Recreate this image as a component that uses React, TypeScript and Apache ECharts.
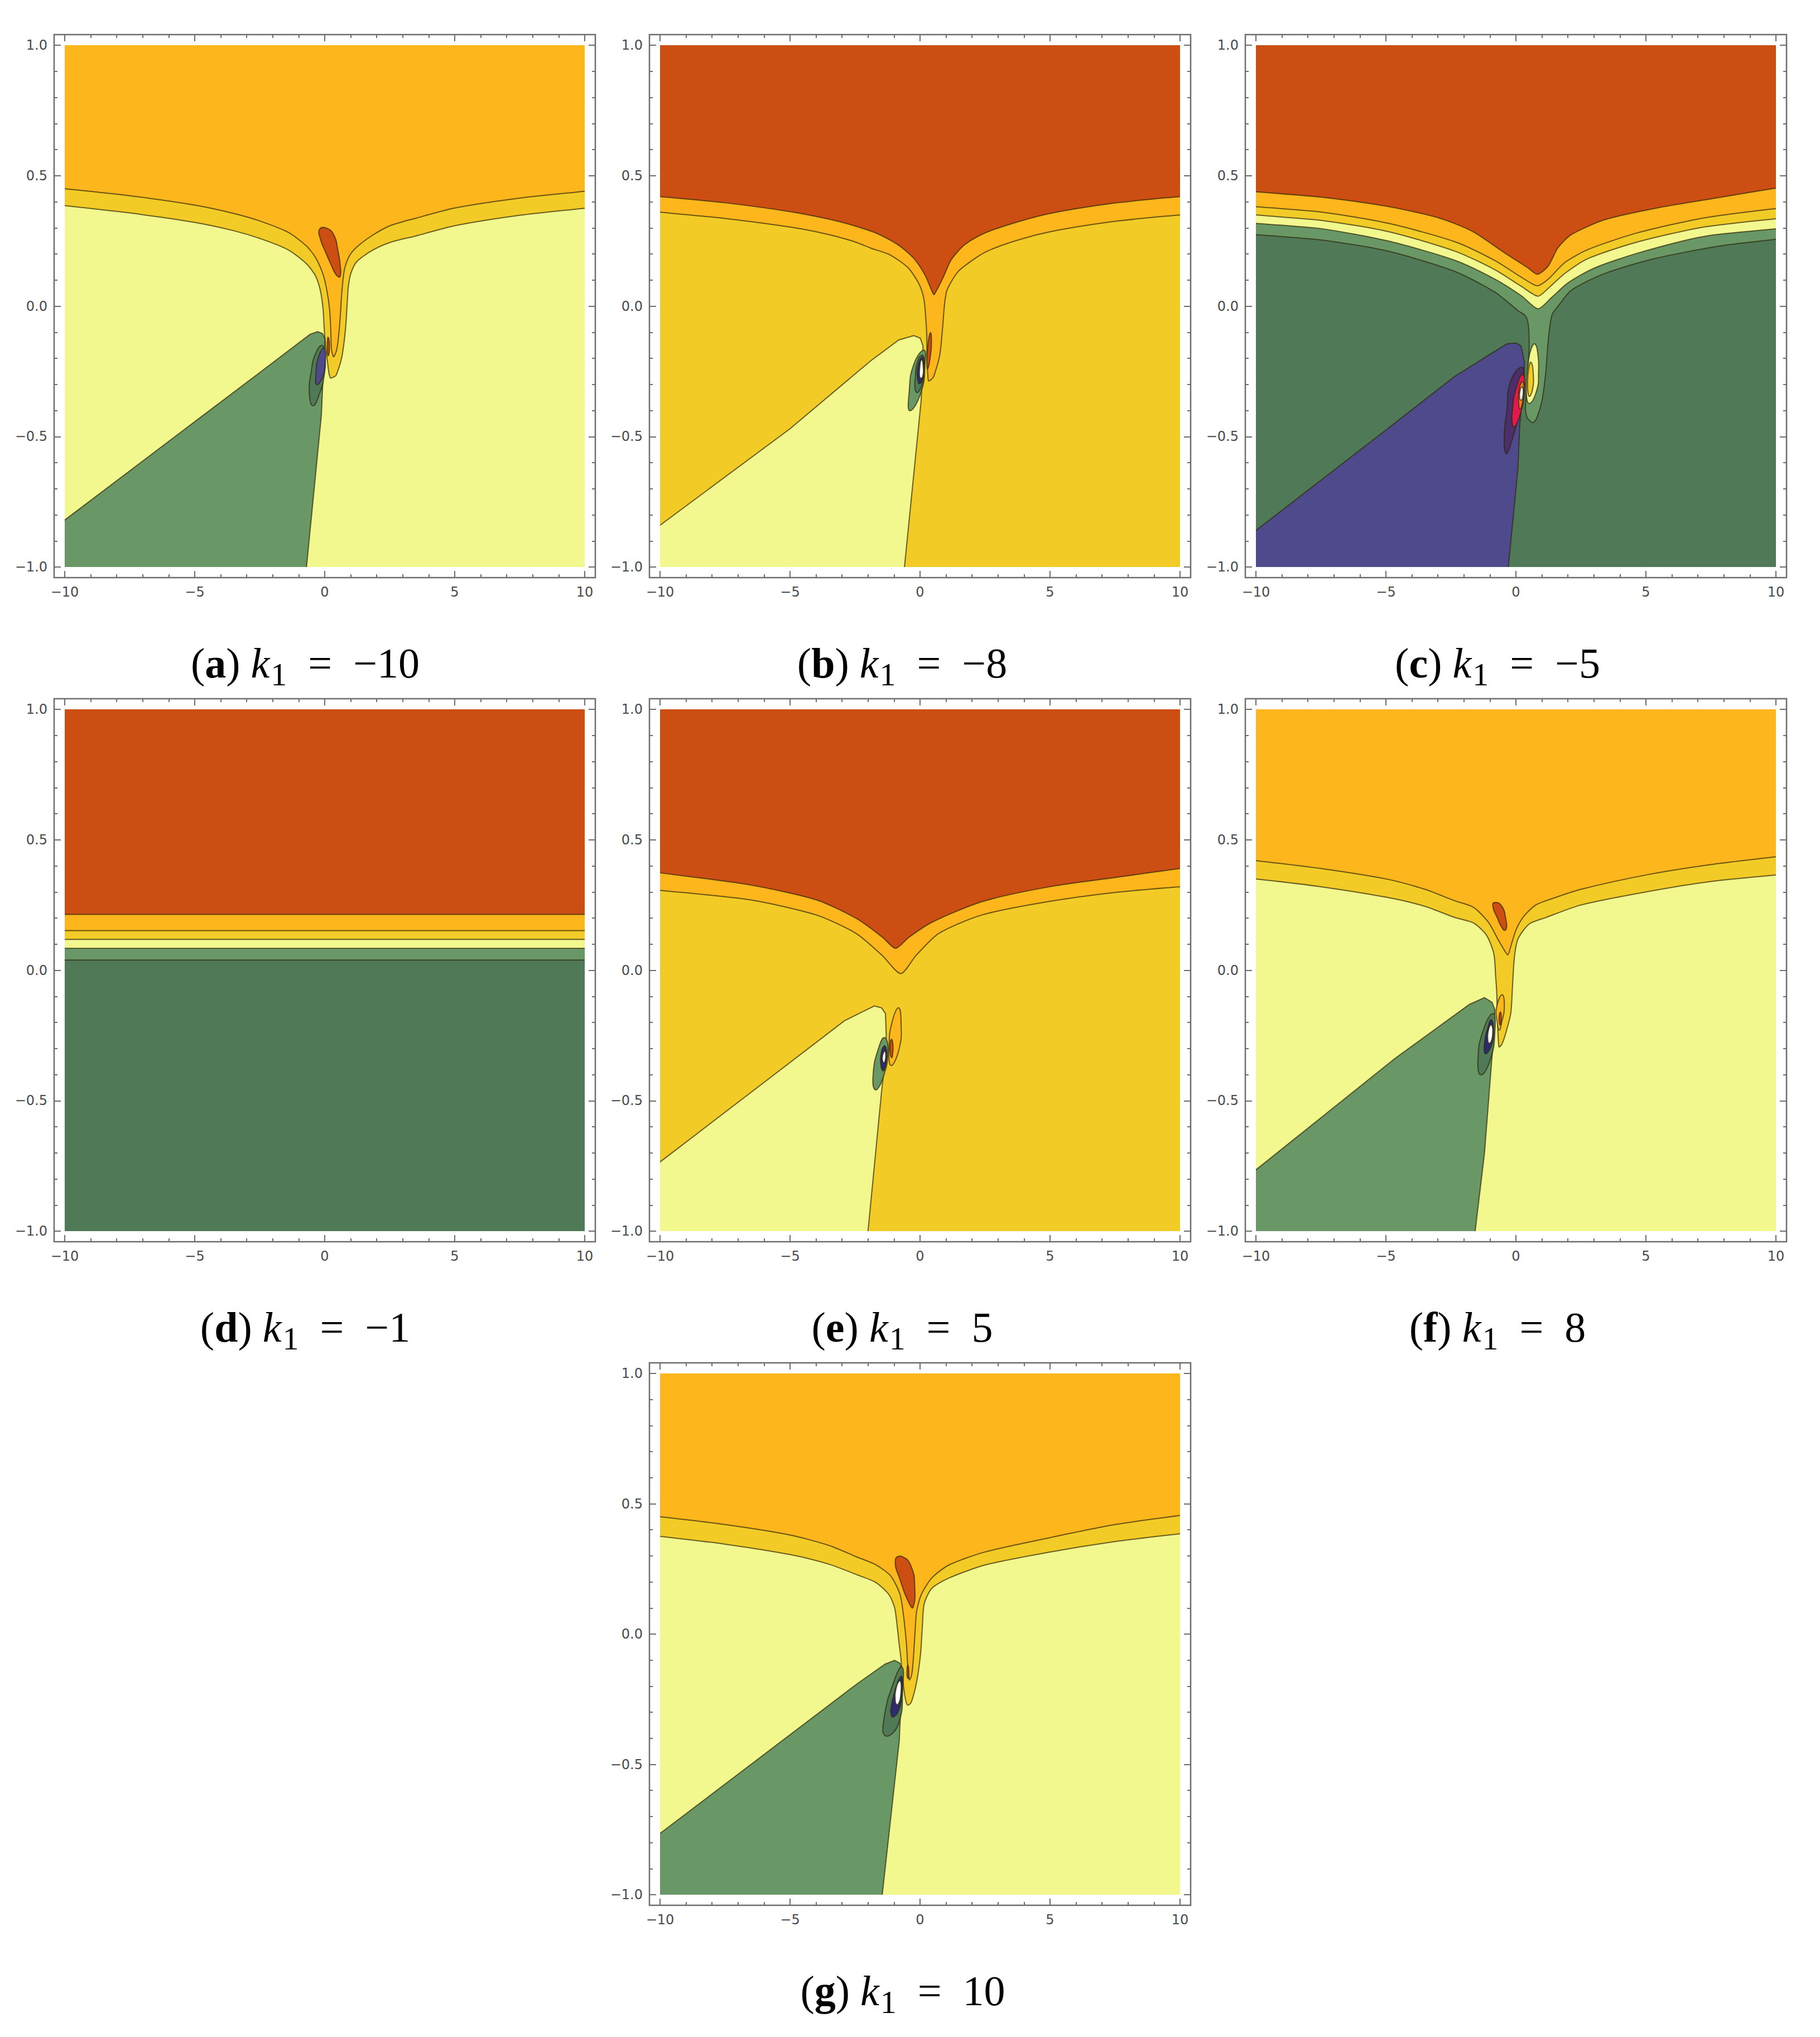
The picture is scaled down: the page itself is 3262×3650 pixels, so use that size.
import React, { useEffect, useRef } from "react";
import * as echarts from "echarts";

// ---------- colours ----------
const RED_ORANGE = "#CC4E12";
const ORANGE = "#FDB61B";
const GOLD = "#F2CB26";
const PALE = "#F2F78E";
const GREEN = "#699866";
const DARK_GREEN = "#507958";
const PURPLE = "#4F4A8C";
const PLUM = "#4B2E6A";
const CRIMSON = "#E01B4B";
const EMBER = "#F07A22";
const NAVY = "#2E2C6E";
const WHITE = "#FFFFFF";
const EDGE = "rgba(45,38,10,0.7)";
const FRAME = "#6d6d6d";

// ---------- axis ticks ----------
const xRange = [-10, 10];
const xStep = 5;
const yRange = [-1, 1];
const yStep = 0.5;

// ---------- captions ----------
const panelTags = ["a", "b", "c", "d", "e", "f", "g"];
const k1Values = ["−10", "−8", "−5", "−1", "5", "8", "10"];

// ---------- (a) k1 = -10 ----------
const aOrangeEdge = [[-10.6,0.455],[-10,0.45],[-7.5,0.423],[-5,0.387],[-3.5,0.355],[-2.49,0.326],[-1.41,0.283],[-0.70,0.230],[-0.34,0.184],[-0.06,0.120],[0.09,0.056],[0.19,-0.016],[0.23,-0.087],[0.26,-0.165],[0.34,-0.194],[0.44,-0.175],[0.51,-0.137],[0.59,-0.051],[0.66,0.056],[0.76,0.141],[0.94,0.191],[1.23,0.226],[1.80,0.269],[2.51,0.308],[3.51,0.337],[5,0.376],[7.5,0.414],[10,0.44],[10.6,0.445]];
const aGoldEdge = [[-10.6,0.39],[-10,0.385],[-7.5,0.357],[-5,0.321],[-3.5,0.289],[-2.49,0.259],[-1.41,0.216],[-0.70,0.162],[-0.34,0.113],[-0.16,0.056],[-0.06,-0.016],[-0.02,-0.087],[0.02,-0.14],[0.09,-0.2],[0.16,-0.255],[0.23,-0.276],[0.34,-0.272],[0.44,-0.265],[0.66,-0.194],[0.80,-0.087],[0.87,0.020],[0.91,0.077],[1.01,0.127],[1.23,0.170],[1.80,0.212],[2.51,0.244],[3.51,0.269],[5,0.308],[7.5,0.348],[10,0.375],[10.6,0.38]];
const aRedSpot = [[-0.20,0.294],[0.09,0.298],[0.37,0.269],[0.51,0.212],[0.59,0.162],[0.59,0.113],[0.44,0.120],[0.23,0.162],[0.01,0.212],[-0.16,0.255]];
const aRedDot = [[0.12,-0.12],[0.17,-0.13],[0.18,-0.17],[0.13,-0.19],[0.10,-0.16]];
const aGreenWedge = [[-10.6,-0.865],[-10,-0.82],[-5,-0.443],[-2.49,-0.254],[-1.2,-0.156],[-0.56,-0.108],[-0.27,-0.098],[-0.09,-0.105],[0.01,-0.125],[-0.02,-0.2],[-0.06,-0.265],[-0.13,-0.42],[-0.76,-1.06],[-10.6,-1.06]];
const aDarkOval = [[-0.09,-0.151],[0.01,-0.194],[-0.02,-0.265],[-0.20,-0.336],[-0.45,-0.382],[-0.59,-0.336],[-0.52,-0.251],[-0.34,-0.179]];
const aPurpleOval = [[-0.02,-0.162],[0.01,-0.229],[-0.12,-0.28],[-0.31,-0.301],[-0.34,-0.265],[-0.24,-0.194]];

// ---------- (b) k1 = -8 ----------
const bRedEdge = [[-10.6,0.425],[-10,0.42],[-7.5,0.396],[-5,0.362],[-3.5,0.333],[-2.5,0.307],[-1.60,0.276],[-0.82,0.233],[-0.24,0.183],[0.19,0.119],[0.47,0.055],[0.54,0.044],[0.90,0.112],[1.19,0.176],[1.69,0.233],[2.40,0.276],[3.5,0.315],[5,0.355],[7.5,0.395],[10,0.42],[10.6,0.425]];
const bOrangeEdge = [[-10.6,0.365],[-10,0.36],[-7.5,0.336],[-5,0.303],[-3.5,0.274],[-2.5,0.246],[-1.89,0.222],[-1.17,0.197],[-0.46,0.147],[-0.03,0.083],[0.15,0.026],[0.22,-0.045],[0.26,-0.116],[0.27,-0.2],[0.30,-0.265],[0.33,-0.287],[0.45,-0.28],[0.54,-0.266],[0.76,-0.187],[0.87,-0.080],[0.94,0.005],[1.04,0.062],[1.47,0.133],[2.12,0.183],[2.62,0.212],[3.5,0.245],[5,0.285],[7.5,0.325],[10,0.35],[10.6,0.355]];
const bRedSpot = [[0.40,-0.102],[0.44,-0.14],[0.40,-0.19],[0.30,-0.24],[0.26,-0.22],[0.30,-0.15]];
const bPaleWedge = [[-10.6,-0.88],[-10,-0.84],[-5,-0.47],[-1.89,-0.209],[-0.82,-0.130],[-0.24,-0.113],[0.01,-0.123],[0.11,-0.152],[0.11,-0.223],[0.04,-0.365],[-0.66,-1.06],[-10.6,-1.06]];
const bGreenOval = [[0.15,-0.169],[0.19,-0.223],[0.04,-0.33],[-0.39,-0.401],[-0.42,-0.33],[-0.24,-0.223]];
const bDarkOval = [[0.12,-0.19],[0.15,-0.24],[0.05,-0.31],[-0.15,-0.33],[-0.18,-0.27],[-0.05,-0.2]];
const bNavyOval = [[0.10,-0.195],[0.14,-0.24],[0.06,-0.29],[-0.06,-0.295],[-0.08,-0.23]];
const bWhiteSpot = [[0.06,-0.205],[0.12,-0.23],[0.10,-0.27],[0.0,-0.275],[-0.01,-0.235]];

// ---------- (c) k1 = -5 ----------
const cRedEdge = [[-10.6,0.442],[-9.99,0.438],[-7.44,0.417],[-4.89,0.381],[-2.97,0.338],[-1.70,0.288],[-0.42,0.203],[0.47,0.146],[0.83,0.122],[1.24,0.153],[1.62,0.224],[2.13,0.274],[3.41,0.331],[5.32,0.374],[7.87,0.417],[10,0.452],[10.6,0.456]];
const cOrangeEdge = [[-10.6,0.385],[-9.99,0.381],[-7.44,0.360],[-4.89,0.317],[-2.33,0.246],[-0.80,0.174],[0.22,0.110],[0.82,0.078],[1.24,0.103],[1.88,0.167],[2.77,0.217],[4.68,0.281],[7.23,0.338],[10,0.374],[10.6,0.378]];
const cGoldEdge = [[-10.6,0.353],[-9.99,0.349],[-7.44,0.328],[-4.89,0.285],[-2.33,0.210],[-0.80,0.139],[0.22,0.075],[0.85,0.038],[1.24,0.068],[1.88,0.125],[2.77,0.182],[4.68,0.246],[7.23,0.303],[10,0.335],[10.6,0.338]];
const cPaleEdge = [[-10.6,0.321],[-9.99,0.317],[-7.44,0.296],[-4.89,0.249],[-2.33,0.175],[-0.80,0.103],[0.22,0.039],[0.85,-0.01],[1.36,0.032],[2.0,0.089],[3.02,0.146],[4.68,0.203],[7.23,0.267],[10,0.296],[10.6,0.3]];
const cGreenEdge = [[-10.6,0.278],[-9.99,0.274],[-7.44,0.253],[-4.89,0.210],[-2.33,0.132],[-0.80,0.053],[0.09,-0.018],[0.37,-0.038],[0.48,-0.073],[0.51,-0.145],[0.48,-0.216],[0.42,-0.30],[0.37,-0.394],[0.44,-0.429],[0.65,-0.447],[0.80,-0.429],[1.01,-0.358],[1.15,-0.251],[1.23,-0.145],[1.31,-0.073],[1.40,-0.03],[1.62,0.0],[2.13,0.061],[3.41,0.125],[5.32,0.182],[7.87,0.231],[10,0.256],[10.6,0.26]];
const cPurpleWedge = [[-10.6,-0.9],[-10,-0.86],[-5,-0.475],[-2.35,-0.269],[-0.92,-0.180],[-0.35,-0.145],[0.01,-0.141],[0.19,-0.152],[0.25,-0.175],[0.33,-0.216],[0.30,-0.30],[0.15,-0.45],[0.08,-0.620],[-0.35,-1.06],[-10.6,-1.06]];
const cPlumOval = [[0.23,-0.234],[0.30,-0.287],[0.20,-0.36],[0.08,-0.429],[-0.2,-0.53],[-0.38,-0.565],[-0.45,-0.50],[-0.35,-0.40],[-0.20,-0.287]];
const cCrimsonOval = [[0.26,-0.262],[0.33,-0.323],[0.12,-0.429],[-0.10,-0.462],[-0.13,-0.394],[0.05,-0.301]];
const cEmberOval = [[0.27,-0.29],[0.30,-0.33],[0.20,-0.39],[0.12,-0.39],[0.14,-0.31]];
const cWhiteSpot = [[0.24,-0.31],[0.28,-0.33],[0.22,-0.36],[0.15,-0.355],[0.17,-0.32]];
const cPaleOval = [[0.73,-0.145],[0.85,-0.19],[0.87,-0.25],[0.80,-0.323],[0.51,-0.373],[0.40,-0.323],[0.48,-0.216],[0.58,-0.166]];
const cGoldOval = [[0.58,-0.215],[0.66,-0.25],[0.64,-0.32],[0.50,-0.345],[0.45,-0.29],[0.50,-0.235]];

// ---------- (d) k1 = -1 ----------
const dRedEdge = [[-10.6,0.214],[10.6,0.214]];
const dOrangeEdge = [[-10.6,0.152],[10.6,0.152]];
const dGoldEdge = [[-10.6,0.118],[10.6,0.118]];
const dPaleEdge = [[-10.6,0.084],[10.6,0.084]];
const dGreenEdge = [[-10.6,0.039],[10.6,0.039]];

// ---------- (e) k1 = 5 ----------
const eRedEdge = [[-10.6,0.378],[-9.99,0.373],[-6.55,0.327],[-4.0,0.270],[-2.46,0.199],[-1.45,0.127],[-0.94,0.084],[-0.42,0.127],[0.46,0.184],[2.39,0.263],[4.93,0.319],[7.48,0.355],[10,0.39],[10.6,0.395]];
const eOrangeEdge = [[-10.6,0.31],[-9.99,0.306],[-6.55,0.270],[-4.0,0.212],[-2.46,0.141],[-1.45,0.056],[-0.74,-0.013],[-0.16,0.056],[0.72,0.141],[2.39,0.212],[4.93,0.263],[7.48,0.298],[10,0.32],[10.6,0.323]];
const ePaleWedge = [[-10.6,-0.78],[-10,-0.735],[-6,-0.43],[-2.91,-0.194],[-2.19,-0.158],[-1.76,-0.137],[-1.48,-0.144],[-1.33,-0.166],[-1.30,-0.251],[-1.37,-0.365],[-1.48,-0.465],[-2.06,-1.06],[-10.6,-1.06]];
const eOrangeOval = [[-0.83,-0.144],[-0.73,-0.201],[-0.80,-0.30],[-1.12,-0.365],[-1.19,-0.287],[-1.08,-0.201]];
const eRedDot = [[-1.10,-0.265],[-1.04,-0.29],[-1.09,-0.335],[-1.16,-0.30]];
const eGreenOval = [[-1.37,-0.258],[-1.23,-0.308],[-1.45,-0.42],[-1.73,-0.458],[-1.80,-0.394],[-1.6,-0.3]];
const eNavyOval = [[-1.35,-0.29],[-1.28,-0.33],[-1.40,-0.385],[-1.50,-0.37],[-1.48,-0.31]];
const eWhiteSpot = [[-1.36,-0.31],[-1.32,-0.33],[-1.39,-0.355],[-1.45,-0.335]];

// ---------- (f) k1 = 8 ----------
const fOrangeEdge = [[-10.6,0.425],[-10,0.42],[-7.5,0.39],[-5,0.35],[-3.5,0.31],[-2.35,0.266],[-1.63,0.241],[-1.06,0.184],[-0.70,0.120],[-0.49,0.084],[-0.31,0.059],[-0.20,0.091],[0.01,0.156],[0.30,0.206],[0.73,0.248],[1.15,0.266],[2.5,0.31],[5,0.365],[7.5,0.405],[10,0.435],[10.6,0.44]];
const fGoldEdge = [[-10.6,0.355],[-10,0.35],[-7.5,0.32],[-5,0.28],[-3.5,0.245],[-2.35,0.202],[-1.63,0.181],[-1.13,0.134],[-0.85,0.063],[-0.78,-0.023],[-0.74,-0.080],[-0.72,-0.15],[-0.69,-0.24],[-0.65,-0.294],[-0.55,-0.285],[-0.42,-0.251],[-0.20,-0.166],[-0.13,-0.059],[-0.06,0.049],[0.08,0.120],[0.51,0.177],[1.15,0.202],[2.5,0.25],[5,0.30],[7.5,0.34],[10,0.365],[10.6,0.37]];
const fRedSpot = [[-0.85,0.259],[-0.56,0.248],[-0.38,0.191],[-0.38,0.156],[-0.49,0.156],[-0.74,0.206],[-0.88,0.241]];
const fGreenWedge = [[-10.6,-0.81],[-10,-0.765],[-4.65,-0.338],[-1.79,-0.131],[-1.21,-0.105],[-0.92,-0.123],[-0.81,-0.151],[-0.85,-0.25],[-0.93,-0.345],[-1.21,-0.702],[-1.64,-1.06],[-10.6,-1.06]];
const fOrangeOval = [[-0.52,-0.094],[-0.45,-0.151],[-0.55,-0.20],[-0.63,-0.230],[-0.72,-0.2],[-0.74,-0.14]];
const fRedDot = [[-0.60,-0.16],[-0.56,-0.18],[-0.60,-0.21],[-0.65,-0.19]];
const fDarkOval = [[-0.88,-0.166],[-0.81,-0.237],[-0.99,-0.344],[-1.35,-0.401],[-1.46,-0.344],[-1.28,-0.237]];
const fNavyOval = [[-0.95,-0.19],[-0.86,-0.23],[-0.95,-0.29],[-1.17,-0.32],[-1.21,-0.28],[-1.08,-0.22]];
const fWhiteSpot = [[-0.93,-0.21],[-0.90,-0.25],[-1.0,-0.28],[-1.08,-0.27],[-1.03,-0.22]];

// ---------- (g) k1 = 10 ----------
const gOrangeEdge = [[-10.6,0.455],[-10,0.45],[-7.5,0.42],[-5,0.38],[-3.5,0.34],[-2.41,0.295],[-1.70,0.266],[-1.13,0.223],[-0.77,0.152],[-0.63,0.066],[-0.52,-0.041],[-0.48,-0.112],[-0.41,-0.176],[-0.33,-0.16],[-0.27,-0.112],[-0.20,-0.005],[-0.13,0.088],[0.05,0.152],[0.45,0.215],[1.11,0.265],[2.5,0.315],[5,0.37],[7.5,0.42],[10,0.455],[10.6,0.46]];
const gGoldEdge = [[-10.6,0.38],[-10,0.375],[-7.5,0.345],[-5,0.305],[-3.5,0.268],[-2.41,0.227],[-1.70,0.198],[-1.20,0.152],[-0.98,0.102],[-0.88,0.031],[-0.80,-0.041],[-0.73,-0.098],[-0.68,-0.16],[-0.58,-0.24],[-0.48,-0.273],[-0.34,-0.262],[-0.13,-0.183],[0.02,-0.076],[0.09,0.031],[0.16,0.116],[0.45,0.175],[1.11,0.215],[2.5,0.265],[5,0.315],[7.5,0.355],[10,0.385],[10.6,0.39]];
const gRedSpot = [[-0.95,0.284],[-0.70,0.298],[-0.34,0.259],[-0.20,0.173],[-0.27,0.102],[-0.41,0.116],[-0.77,0.209]];
const gRedDot = [[-0.48,-0.12],[-0.44,-0.13],[-0.45,-0.17],[-0.50,-0.16]];
const gGreenWedge = [[-10.6,-0.81],[-10,-0.765],[-2.41,-0.19],[-1.34,-0.115],[-0.98,-0.101],[-0.77,-0.112],[-0.70,-0.148],[-0.75,-0.30],[-0.80,-0.411],[-1.52,-1.06],[-10.6,-1.06]];
const gDarkOval = [[-0.70,-0.126],[-0.66,-0.2],[-0.85,-0.35],[-1.34,-0.390],[-1.38,-0.32],[-1.0,-0.18]];
const gNavyOval = [[-0.73,-0.162],[-0.70,-0.22],[-0.85,-0.30],[-1.09,-0.316],[-1.05,-0.25]];
const gWhiteSpot = [[-0.76,-0.18],[-0.74,-0.23],[-0.85,-0.27],[-0.95,-0.26],[-0.9,-0.2]];

// ---------- helpers ----------
type Layer = { pts: number[][]; fill: string; smooth?: number };
const above = (edge: number[][]) => [...edge, [10.6, 1.3], [-10.6, 1.3]];
const top = (edge: number[][], fill: string): Layer => ({ pts: above(edge), fill, smooth: 0.25 });
const flat = (edge: number[][], fill: string): Layer => ({ pts: above(edge), fill });
const shape = (pts: number[][], fill: string): Layer => ({ pts, fill });
const oval = (pts: number[][], fill: string): Layer => ({ pts, fill, smooth: 0.5 });

const W = 932;
const H = 935;
const PAD = 19;

const panels = [
  { left: 116, top: 81, height: H, base: PALE, cx: 547, cy: 1188, layers: [
    top(aGoldEdge, GOLD), top(aOrangeEdge, ORANGE), oval(aRedSpot, RED_ORANGE), oval(aRedDot, RED_ORANGE),
    shape(aGreenWedge, GREEN), oval(aDarkOval, DARK_GREEN), oval(aPurpleOval, PURPLE),
  ]},
  { left: 1183, top: 81, height: H, base: GOLD, cx: 1617, cy: 1188, layers: [
    top(bOrangeEdge, ORANGE), top(bRedEdge, RED_ORANGE), oval(bRedSpot, RED_ORANGE),
    shape(bPaleWedge, PALE), oval(bGreenOval, GREEN), oval(bDarkOval, DARK_GREEN), oval(bNavyOval, NAVY), oval(bWhiteSpot, WHITE),
  ]},
  { left: 2251, top: 81, height: H, base: DARK_GREEN, cx: 2684, cy: 1188, layers: [
    top(cGreenEdge, GREEN), top(cPaleEdge, PALE), top(cGoldEdge, GOLD), top(cOrangeEdge, ORANGE), top(cRedEdge, RED_ORANGE),
    shape(cPurpleWedge, PURPLE), oval(cPlumOval, PLUM), oval(cCrimsonOval, CRIMSON), oval(cEmberOval, EMBER), oval(cWhiteSpot, WHITE),
    oval(cPaleOval, PALE), oval(cGoldOval, GOLD),
  ]},
  { left: 116, top: 1271, height: H, base: DARK_GREEN, cx: 547, cy: 2378, layers: [
    flat(dGreenEdge, GREEN), flat(dPaleEdge, PALE), flat(dGoldEdge, GOLD), flat(dOrangeEdge, ORANGE), flat(dRedEdge, RED_ORANGE),
  ]},
  { left: 1183, top: 1271, height: H, base: GOLD, cx: 1617, cy: 2378, layers: [
    top(eOrangeEdge, ORANGE), top(eRedEdge, RED_ORANGE), shape(ePaleWedge, PALE),
    oval(eOrangeOval, ORANGE), oval(eRedDot, RED_ORANGE), oval(eGreenOval, GREEN), oval(eNavyOval, NAVY), oval(eWhiteSpot, WHITE),
  ]},
  { left: 2251, top: 1271, height: H, base: PALE, cx: 2684, cy: 2378, layers: [
    top(fGoldEdge, GOLD), top(fOrangeEdge, ORANGE), oval(fRedSpot, RED_ORANGE), shape(fGreenWedge, GREEN),
    oval(fOrangeOval, ORANGE), oval(fRedDot, RED_ORANGE), oval(fDarkOval, DARK_GREEN), oval(fNavyOval, NAVY), oval(fWhiteSpot, WHITE),
  ]},
  { left: 1183, top: 2461, height: 934, base: PALE, cx: 1618, cy: 3567, layers: [
    top(gGoldEdge, GOLD), top(gOrangeEdge, ORANGE), oval(gRedSpot, RED_ORANGE), oval(gRedDot, RED_ORANGE),
    shape(gGreenWedge, GREEN), oval(gDarkOval, DARK_GREEN), oval(gNavyOval, NAVY), oval(gWhiteSpot, WHITE),
  ]},
];

const minus = (s: string) => s.replace("-", "−");

function buildOption() {
  const tickStyle = {
    axisLine: { show: false, onZero: false },
    splitLine: { show: false },
    axisTick: { show: true, inside: true, length: 12, lineStyle: { color: FRAME, width: 2 } },
    minorTick: { show: true, splitNumber: 5, length: 6, lineStyle: { color: FRAME, width: 2 } },
  };
  const labelStyle = { color: "#4a4a4a", fontFamily: "DejaVu Sans", fontSize: 24, showMinLabel: true, showMaxLabel: true };
  const grid: any[] = [];
  const xAxis: any[] = [];
  const yAxis: any[] = [];
  const series: any[] = [];
  const graphic: any[] = [];
  panels.forEach((p, i) => {
    grid.push({ left: p.left, top: p.top, width: W, height: p.height, show: true, backgroundColor: p.base, borderWidth: 0, borderColor: "transparent" });
    xAxis.push({ type: "value", gridIndex: i, position: "bottom", offset: PAD, min: xRange[0], max: xRange[1], interval: xStep, ...tickStyle,
      axisLabel: { ...labelStyle, margin: 14, formatter: (v: number) => minus(String(v)) } });
    xAxis.push({ type: "value", gridIndex: i, position: "top", offset: PAD, min: xRange[0], max: xRange[1], interval: xStep, ...tickStyle, axisLabel: { show: false } });
    yAxis.push({ type: "value", gridIndex: i, position: "left", offset: PAD, min: yRange[0], max: yRange[1], interval: yStep, ...tickStyle,
      axisLabel: { ...labelStyle, margin: 12, formatter: (v: number) => minus(v.toFixed(1)) } });
    yAxis.push({ type: "value", gridIndex: i, position: "right", offset: PAD, min: yRange[0], max: yRange[1], interval: yStep, ...tickStyle, axisLabel: { show: false } });
    const layers = p.layers;
    series.push({
      type: "custom",
      xAxisIndex: i * 2,
      yAxisIndex: i * 2,
      clip: true,
      silent: true,
      data: layers.map(() => [0, 0]),
      renderItem: (params: any, api: any) => {
        const L = layers[params.dataIndex];
        return {
          type: "polygon",
          shape: { points: L.pts.map((pt) => api.coord(pt)), smooth: L.smooth || 0 },
          style: { fill: L.fill, stroke: EDGE, lineWidth: 2 },
        };
      },
    });
    graphic.push({
      type: "rect",
      silent: true,
      shape: { x: p.left - PAD, y: p.top - PAD, width: W + 2 * PAD, height: p.height + 2 * PAD },
      style: { fill: "none", stroke: FRAME, lineWidth: 2.5 },
    });
    graphic.push({
      type: "text",
      silent: true,
      x: p.cx,
      y: p.cy,
      style: {
        text: `{p|(}{b|${panelTags[i]}}{p|) }{i|k}{s|1}{p|  =  ${k1Values[i]}}`,
        align: "center",
        verticalAlign: "middle",
        fill: "#000",
        rich: {
          p: { fontFamily: "Liberation Serif", fontSize: 76, lineHeight: 80, fill: "#000" },
          b: { fontFamily: "Liberation Serif", fontSize: 76, fontWeight: "bold", lineHeight: 80, fill: "#000" },
          i: { fontFamily: "Liberation Serif", fontSize: 76, fontStyle: "italic", lineHeight: 80, fill: "#000" },
          s: { fontFamily: "Liberation Serif", fontSize: 58, lineHeight: 58, padding: [40, 0, 0, 2], fill: "#000" },
        },
      },
    });
  });
  return { animation: false, grid, xAxis, yAxis, series, graphic };
}

export default function App() {
  const ref = useRef<HTMLDivElement>(null);
  useEffect(() => {
    if (!ref.current) return;
    const chart = echarts.init(ref.current, undefined, { renderer: "svg" });
    chart.setOption(buildOption() as any);
    return () => chart.dispose();
  }, []);
  return (
    <div
      ref={ref}
      style={{ position: "absolute", left: 0, top: 0, width: 3262, height: 3650, background: "#fff" }}
    />
  );
}
